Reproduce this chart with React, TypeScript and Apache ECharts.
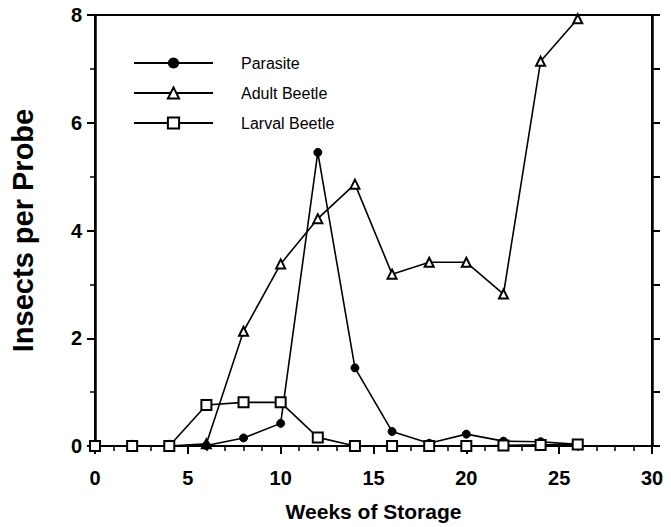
import React, { useEffect, useRef } from "react";
import * as echarts from "echarts";

const weeks = [0, 2, 4, 6, 8, 10, 12, 14, 16, 18, 20, 22, 24, 26];
const parasite = [0, 0, 0, 0.01, 0.15, 0.42, 5.45, 1.45, 0.27, 0.05, 0.22, 0.09, 0.08, 0.03];
const adultBeetle = [0, 0, 0, 0.04, 2.13, 3.38, 4.22, 4.86, 3.19, 3.41, 3.41, 2.82, 7.14, 7.93];
const larvalBeetle = [0, 0, 0, 0.76, 0.81, 0.81, 0.16, 0, 0, 0, 0, 0.01, 0.02, 0.03];
const seriesNames = ["Parasite", "Adult Beetle", "Larval Beetle"];
const xTitle = "Weeks of Storage";
const yTitle = "Insects per Probe";

const FONT = "'Liberation Sans', Arial, Helvetica, sans-serif";

export default function App() {
  const ref = useRef<HTMLDivElement>(null);
  useEffect(() => {
    if (!ref.current) return;
    const chart = echarts.init(ref.current, undefined, { renderer: "svg" });
    const pair = (ys: number[]) => weeks.map((w, i) => [w, ys[i]]);
    const lineStyle = { color: "#000", width: 1.6 };
    const tickStyle = { color: "#000", width: 2 };
    const minorStyle = { color: "#000", width: 1.5 };
    chart.setOption({
      animation: false,
      backgroundColor: "#fff",
      grid: {
        left: 95,
        right: 19,
        top: 15,
        bottom: 80,
        containLabel: false,
        show: true,
        borderColor: "#000",
        borderWidth: 2,
        backgroundColor: "transparent",
      },
      legend: {
        orient: "vertical",
        left: 133,
        top: 54,
        padding: 0,
        itemWidth: 79,
        itemHeight: 14,
        itemGap: 12,
        data: seriesNames,
        textStyle: {
          fontFamily: FONT,
          fontSize: 16,
          lineHeight: 18,
          color: "#000",
          padding: [0, 0, 0, 23],
        },
      },
      xAxis: {
        type: "value",
        min: 0,
        max: 30,
        interval: 5,
        name: xTitle,
        nameLocation: "middle",
        nameGap: 55,
        nameTextStyle: { fontFamily: FONT, fontSize: 21, fontWeight: "bold", color: "#000" },
        axisLine: { show: true, onZero: false, lineStyle: { color: "#000", width: 2 } },
        axisTick: { show: true, inside: false, length: 8, lineStyle: tickStyle },
        minorTick: { show: true, splitNumber: 5, length: 5, lineStyle: minorStyle },
        splitLine: { show: false },
        axisLabel: { margin: 22, fontFamily: FONT, fontSize: 20, fontWeight: "bold", color: "#000" },
      },
      yAxis: [
        {
          type: "value",
          min: 0,
          max: 8,
          interval: 2,
          name: yTitle,
          nameLocation: "middle",
          nameGap: 58,
          nameTextStyle: { fontFamily: FONT, fontSize: 29, fontWeight: "bold", color: "#000" },
          axisLine: { show: true, onZero: false, lineStyle: { color: "#000", width: 2.5 } },
          axisTick: { show: true, inside: false, length: 8, lineStyle: tickStyle },
          minorTick: { show: true, splitNumber: 2, length: 5, lineStyle: minorStyle },
          splitLine: { show: false },
          axisLabel: { margin: 13, fontFamily: FONT, fontSize: 20, fontWeight: "bold", color: "#000" },
        },
        {
          type: "value",
          position: "right",
          min: 0,
          max: 8,
          interval: 1,
          axisLine: { show: true, onZero: false, lineStyle: { color: "#000", width: 2.5 } },
          axisTick: { show: true, inside: false, length: 8, lineStyle: tickStyle },
          axisLabel: { show: false },
          splitLine: { show: false },
        },
      ],
      series: [
        {
          name: seriesNames[0],
          type: "line",
          data: pair(parasite),
          symbol: "circle",
          symbolSize: 8,
          itemStyle: { color: "#000", borderColor: "#000" },
          lineStyle,
          z: 3,
        },
        {
          name: seriesNames[1],
          type: "line",
          data: pair(adultBeetle),
          symbol: "emptyTriangle",
          symbolSize: 9,
          itemStyle: { color: "#000", borderColor: "#000", borderWidth: 1.5 },
          lineStyle,
          z: 2,
        },
        {
          name: seriesNames[2],
          type: "line",
          data: pair(larvalBeetle),
          symbol: "emptyRect",
          symbolSize: 10,
          itemStyle: { color: "#000", borderColor: "#000", borderWidth: 1.5 },
          lineStyle,
          z: 4,
        },
      ],
    });
    return () => chart.dispose();
  }, []);
  return (
    <div
      ref={ref}
      style={{ position: "absolute", left: 0, top: 0, width: 671, height: 527, background: "#fff" }}
    />
  );
}
